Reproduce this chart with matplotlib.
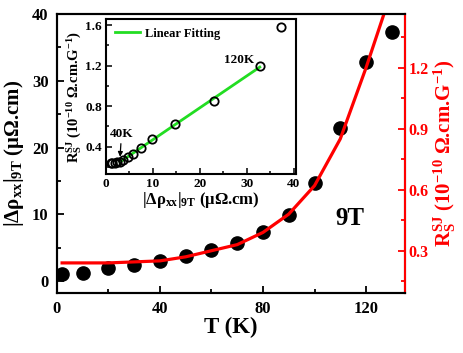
import numpy as np
import matplotlib
matplotlib.use("Agg")
import matplotlib.pyplot as plt
from matplotlib.ticker import MultipleLocator

plt.rcParams['font.family'] = ['Liberation Serif', 'DejaVu Serif']
plt.rcParams['font.weight'] = 'bold'
plt.rcParams['mathtext.fontset'] = 'custom'
plt.rcParams['mathtext.rm'] = 'Liberation Serif:bold'
plt.rcParams['mathtext.it'] = 'Liberation Serif:bold'
plt.rcParams['mathtext.bf'] = 'Liberation Serif:bold'

# data
temperature = [2, 10, 20, 30, 40, 50, 60, 70, 80, 90, 100, 110, 120, 130]
delta_rho = [1.0, 1.25, 1.9, 2.4, 3.0, 3.7, 4.7, 5.7, 7.4, 9.9, 14.7, 23.0, 32.8, 37.3]
rs_sj = [0.24, 0.24, 0.24, 0.245, 0.25, 0.27, 0.30, 0.33, 0.39, 0.48, 0.62, 0.85, 1.20, 1.58]
fit_start, fit_stop = 4, 12   # 40K .. 120K

main_xticks = [0, 40, 80, 120]
main_yticks = [0, 10, 20, 30, 40]
right_yticks = [0.3, 0.6, 0.9, 1.2]
inset_xticks = [0, 10, 20, 30, 40]
inset_yticks = [0.4, 0.8, 1.2, 1.6]

B = 'bold'

fig = plt.figure(figsize=(4.63, 3.53), dpi=100)
ax = fig.add_axes([0.123, 0.170, 0.751, 0.790])
ax2 = ax.twinx()

ax.plot(temperature, delta_rho, 'o', color='black', ms=9.5, zorder=3)
ax2.plot(temperature, rs_sj, '-', color='red', lw=2.3)

ax.set_xlim(0, 135)
ax.set_ylim(-1.8, 40)
ax2.set_ylim(0.092, 1.464)
ax.set_xticks(main_xticks)
ax.set_yticks(main_yticks)
ax.xaxis.set_minor_locator(MultipleLocator(20))
ax.yaxis.set_minor_locator(MultipleLocator(5))
ax2.set_yticks(right_yticks)
ax2.yaxis.set_minor_locator(MultipleLocator(0.15))

for a in (ax, ax2):
    for s in a.spines.values():
        s.set_linewidth(1.5)
ax2.spines['right'].set_color('red')
ax.tick_params(which='both', direction='in', width=1.3, labelsize=12, pad=6)
ax.tick_params(which='major', length=5)
ax.tick_params(which='minor', length=3)
ax2.tick_params(which='both', direction='in', width=1.3, colors='red', labelsize=11.5, pad=3)
ax2.tick_params(which='major', length=5)
ax2.tick_params(which='minor', length=3)

ax.set_xlabel('T (K)', fontsize=16.5, fontweight=B, labelpad=0)
ax.set_ylabel(r'|Δρ$_{\mathrm{xx}}$|$_{\mathrm{9T}}$ (μΩ.cm)', fontsize=15, fontweight=B, labelpad=4)
ax2.set_ylabel(r'R$_{\mathrm{S}}^{\mathrm{SJ}}$ (10$^{-10}$ Ω.cm.G$^{-1}$)', fontsize=15,
               fontweight=B, color='red', labelpad=2)
ax.text(113.8, 9.4, '9T', fontsize=18, fontweight=B, ha='center', va='center')

# inset
ins = fig.add_axes([0.229, 0.507, 0.410, 0.439])
ins.plot(delta_rho, rs_sj, 'o', mfc='none', mec='black', ms=6, mew=1.3, zorder=3)
fx = np.array(delta_rho[fit_start:fit_stop + 1])
fy = np.array(rs_sj[fit_start:fit_stop + 1])
k, b = np.polyfit(fx, fy, 1)
xline = np.array([fx[0], fx[-1]])
ins.plot(xline, k * xline + b, color='#22dd22', lw=2, label='Linear Fitting')
ins.set_xlim(0, 40.5)
ins.set_ylim(0.13, 1.66)
ins.set_xticks(inset_xticks)
ins.set_yticks(inset_yticks)
ins.xaxis.set_minor_locator(MultipleLocator(5))
ins.yaxis.set_minor_locator(MultipleLocator(0.2))
for s in ins.spines.values():
    s.set_linewidth(1.5)
ins.tick_params(which='both', direction='in', width=1.1, labelsize=9.5, pad=3)
ins.tick_params(which='major', length=4)
ins.tick_params(which='minor', length=2.5)
ins.set_xlabel(r'|Δρ$_{\mathrm{xx}}$|$_{\mathrm{9T}}$ (μΩ.cm)', fontsize=12, fontweight=B, labelpad=0)
ins.set_ylabel(r'R$_{\mathrm{S}}^{\mathrm{SJ}}$ (10$^{-10}$ Ω.cm.G$^{-1}$)', fontsize=10.5,
               fontweight=B, labelpad=1)
ins.legend(loc='upper left', frameon=False, prop={'size': 9, 'weight': B}, handlelength=2,
           handletextpad=0.4, borderaxespad=0.3)
ins.text(28.3, 1.255, '120K', fontsize=9.5, fontweight=B, ha='center', va='center')
ins.annotate('40K', xy=(3.0, 0.30), xytext=(3.3, 0.53), fontsize=9.5, fontweight=B,
             ha='center', va='center',
             arrowprops=dict(arrowstyle='-|>', lw=0.9, color='black', shrinkA=1, shrinkB=0,
                             mutation_scale=7))

for a in (ax, ax2, ins):
    for lab in a.get_xticklabels() + a.get_yticklabels():
        lab.set_fontweight(B)

fig.savefig('out.png', dpi=100)
